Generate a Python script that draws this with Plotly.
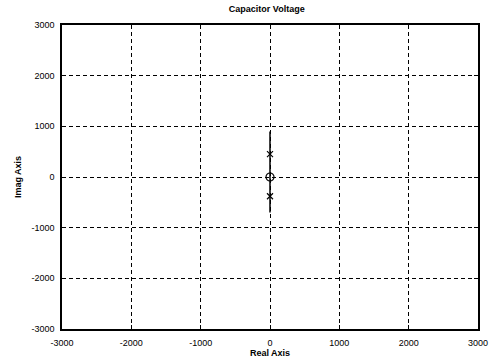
import plotly.graph_objects as go

# Root locus data
locus_real = [0, 0, 0]
locus_imag = [900, 0, -700]
pole_real = [0, 0]
pole_imag = [450, -380]
zero_real = [0]
zero_imag = [0]
tick_vals = [-3000, -2000, -1000, 0, 1000, 2000, 3000]
tick_text = ["-3000", "-2000", "-1000", "0", "1000", "2000", "3000"]

fig = go.Figure()
fig.add_trace(go.Scatter(x=locus_real, y=locus_imag, mode="lines",
                         line=dict(color="black", width=1.5), showlegend=False))
fig.add_trace(go.Scatter(x=pole_real, y=pole_imag, mode="markers",
                         marker=dict(symbol="x-thin", size=6, color="black",
                                     line=dict(color="black", width=1.2)),
                         showlegend=False))
fig.add_trace(go.Scatter(x=zero_real, y=zero_imag, mode="markers",
                         marker=dict(symbol="circle-open", size=8, color="black",
                                     line=dict(color="black", width=1.2)),
                         showlegend=False))

font = dict(family="Liberation Sans, Arial", size=9, color="black")
axis_common = dict(range=[-3000, 3000], tickvals=tick_vals, ticktext=tick_text,
                   showgrid=True, gridcolor="black", griddash="4px,3px", gridwidth=1,
                   zeroline=False, showline=True, linecolor="black", linewidth=1.5,
                   mirror="ticks", ticks="inside", ticklen=4, tickcolor="black",
                   tickfont=font, ticklabelstandoff=4, automargin=False)

fig.update_layout(
    width=494, height=363,
    margin=dict(l=62, r=16, t=25, b=34),
    paper_bgcolor="white", plot_bgcolor="white",
    title=dict(text="<b>Capacitor Voltage</b>", x=0.54, xanchor="center", y=0.985, yanchor="top",
               font=font),
    xaxis=dict(axis_common, title=dict(text="<b>Real Axis</b>", standoff=2, font=font)),
    yaxis=dict(axis_common, title=dict(text="<b>Imag Axis</b>", standoff=8, font=font)),
)
fig.write_html("out.html")
